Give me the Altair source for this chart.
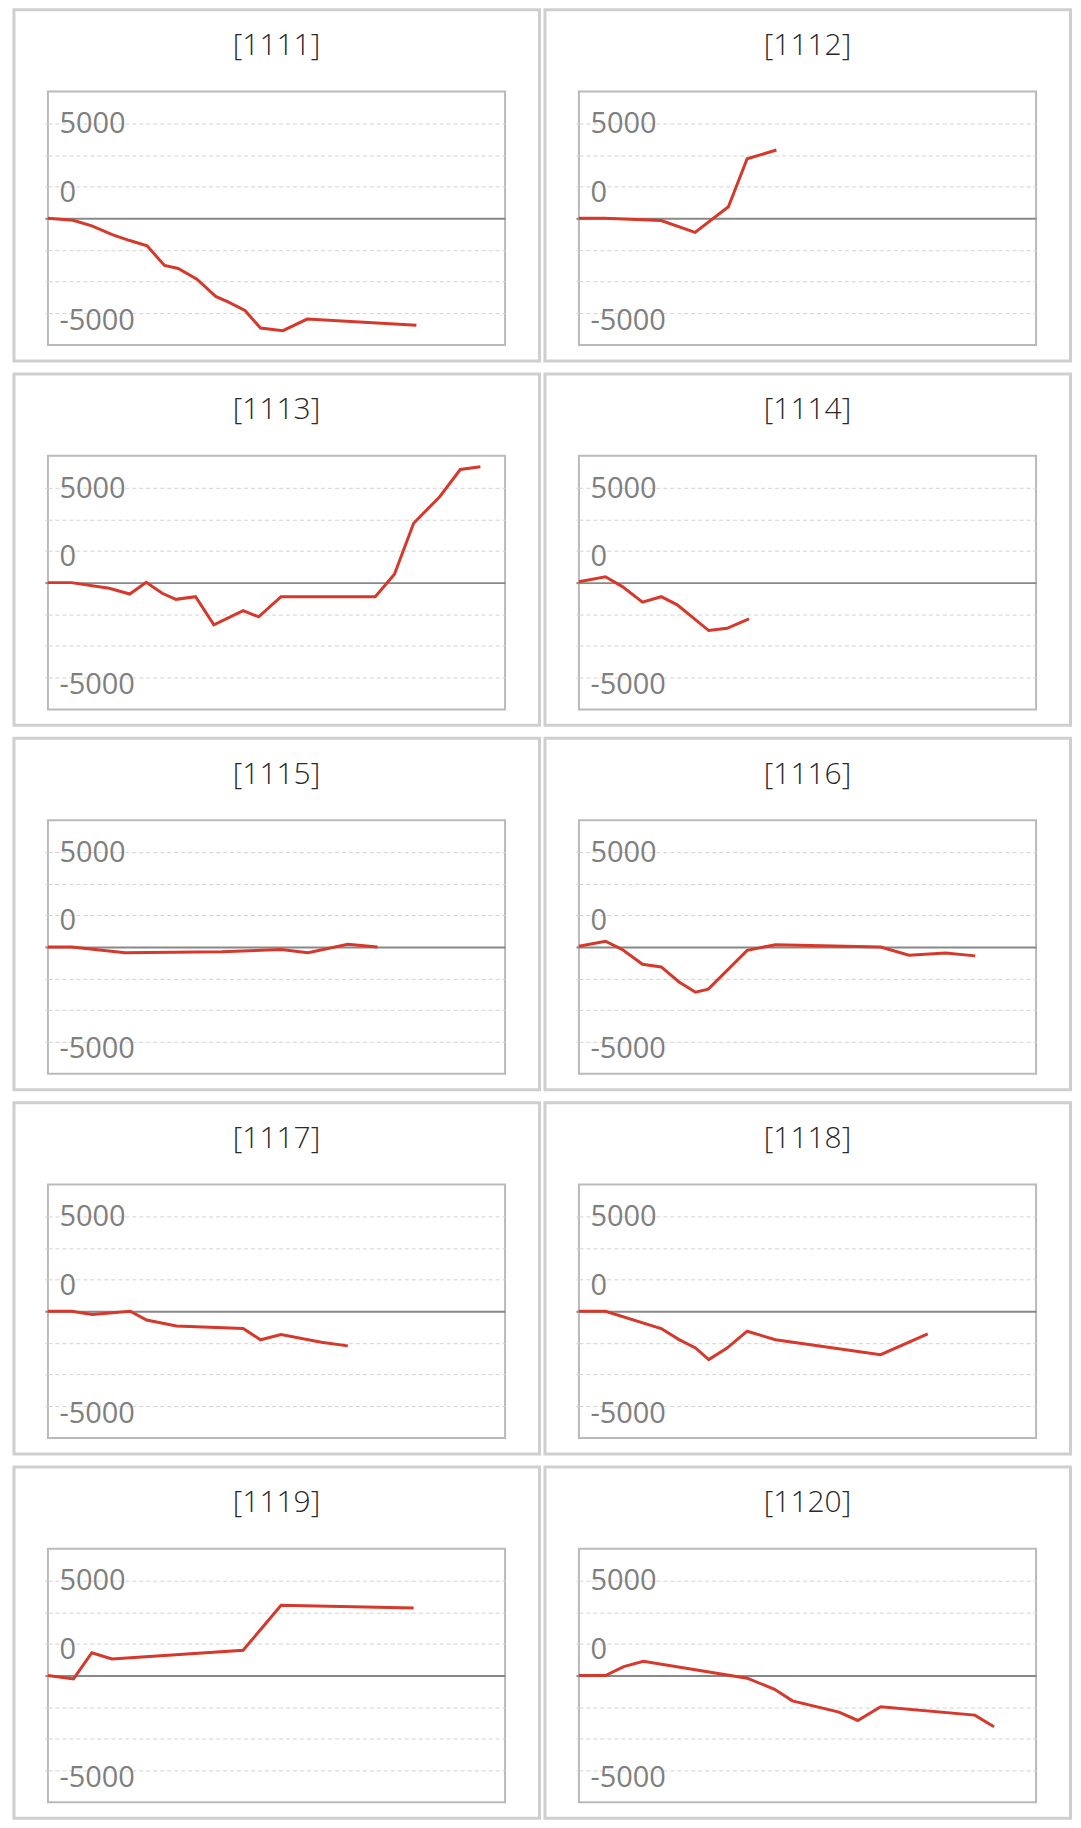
import altair as alt
import pandas as pd

# ---------------- data (x = position along the period, 0-100; y = cumulative value) ----------------
PANELS = ["1111", "1112", "1113", "1114", "1115", "1116", "1117", "1118", "1119", "1120"]

X_1111 = [0, 5.5, 9.6, 14.2, 17.9, 21.7, 25.5, 28.5, 32.6, 36.7, 39.4, 43.1, 46.5, 51.4, 56.7, 80.6]
Y_1111 = [0, -100, -400, -870, -1170, -1450, -2480, -2640, -3200, -4110, -4400, -4850, -5770, -5910, -5300, -5630]

X_1112 = [0, 5.6, 18.0, 25.4, 32.7, 36.8, 43.2]
Y_1112 = [0, 0, -120, -740, 610, 3130, 3590]

X_1113 = [0, 5.1, 13.4, 17.9, 21.5, 25.0, 28.0, 32.3, 36.3, 42.7, 46.1, 51.0, 71.6, 75.8, 80.0, 85.7, 90.2, 94.6]
Y_1113 = [0, 0, -300, -600, 20, -560, -880, -740, -2220, -1470, -1800, -740, -740, 440, 3120, 4520, 5950, 6090]

X_1114 = [0, 5.8, 9.5, 13.9, 18.0, 21.5, 28.4, 32.4, 37.2]
Y_1114 = [50, 310, -210, -1030, -740, -1170, -2520, -2400, -1910]

X_1115 = [0, 5.2, 16.9, 38.0, 51.0, 56.9, 65.6, 72.1]
Y_1115 = [0, 0, -300, -250, -140, -300, 140, 0]

X_1116 = [0, 5.8, 9.5, 13.9, 18.0, 21.9, 25.5, 28.3, 36.8, 43.0, 66.0, 72.2, 80.2, 86.7]
Y_1116 = [40, 300, -140, -910, -1050, -1840, -2380, -2220, -180, 120, 0, -440, -320, -470]

X_1117 = [0, 5.2, 9.7, 18.0, 21.6, 28.1, 42.7, 46.5, 51.0, 59.8, 65.6]
Y_1117 = [0, 0, -175, 0, -460, -770, -910, -1500, -1230, -1630, -1820]

X_1118 = [0, 5.8, 18.0, 21.9, 25.5, 28.4, 32.4, 36.8, 43.0, 66.0, 76.3]
Y_1118 = [0, 0, -910, -1490, -1930, -2540, -1940, -1050, -1500, -2280, -1190]

X_1119 = [0, 5.6, 9.6, 14.0, 42.7, 51.0, 80.0]
Y_1119 = [0, -175, 1200, 870, 1330, 3700, 3560]

X_1120 = [0, 5.8, 9.8, 14.1, 36.8, 42.8, 46.7, 56.9, 61.0, 66.0, 86.6, 90.8]
Y_1120 = [0, 0, 470, 750, -140, -720, -1330, -1920, -2360, -1640, -2080, -2690]

SERIES = {
    "1111": (X_1111, Y_1111), "1112": (X_1112, Y_1112), "1113": (X_1113, Y_1113),
    "1114": (X_1114, Y_1114), "1115": (X_1115, Y_1115), "1116": (X_1116, Y_1116),
    "1117": (X_1117, Y_1117), "1118": (X_1118, Y_1118), "1119": (X_1119, Y_1119),
    "1120": (X_1120, Y_1120),
}

# ---------------- styling ----------------
W, H = 458, 254
LINE_COLOR = "#d6392b"
BOX_COLOR = "#cfcfcf"
PLOT_BORDER = "#bababa"
GRID_COLOR = "#d3d3d3"
ZERO_COLOR = "#888888"
LABEL_COLOR = "#7f7f7f"
TITLE_COLOR = "#2a2a2a"
FONT = "Open Sans"

Y_DOMAIN = [-6666.667, 6666.667]
GRID_VALUES = [-5000, -3333.333, -1666.667, 0, 1666.667, 3333.333, 5000]

y_axis = alt.Axis(
    values=GRID_VALUES,
    title=None,
    domain=False,
    grid=True,
    gridColor={"condition": {"test": "datum.value === 0", "value": ZERO_COLOR}, "value": GRID_COLOR},
    gridDash={"condition": {"test": "datum.value === 0", "value": []}, "value": [4, 3]},
    gridWidth={"condition": {"test": "datum.value === 0", "value": 2}, "value": 1},
    ticks=True,
    tickSize=3,
    tickColor={"condition": {"test": "datum.value === 0", "value": ZERO_COLOR}, "value": GRID_COLOR},
    tickWidth={"condition": {"test": "datum.value === 0", "value": 2}, "value": 1},
    labelExpr="datum.value === 5000 ? '5000' : datum.value === 0 ? '0' : datum.value === -5000 ? '-5000' : ''",
    labelAlign="left",
    labelBaseline="middle",
    labelPadding=-14,
    labelOffset={"condition": [{"test": "datum.value === 0", "value": -26},
                               {"test": "datum.value === -5000", "value": 7}],
                 "value": 0.5},
    labelFont=FONT,
    labelFontSize=29,
    labelColor=LABEL_COLOR,
    labelOverlap=False,
    labelFlush=False,
)


def panel(pid):
    xs, ys = SERIES[pid]
    df = pd.DataFrame({"x": xs, "y": ys})

    frame = alt.Chart(pd.DataFrame({"k": [0]})).mark_rect(
        fill="white", fillOpacity=0, stroke=BOX_COLOR, strokeWidth=3
    ).encode(
        x=alt.value(-34), x2=alt.value(492.5), y=alt.value(-82), y2=alt.value(270)
    )

    title = alt.Chart(pd.DataFrame({"name": [f"[{pid}]"]})).mark_text(
        font=FONT, fontSize=30, fontWeight=300, color=TITLE_COLOR,
        align="center", baseline="middle"
    ).encode(
        text="name:N", x=alt.value(W / 2), y=alt.value(-45.5)
    )

    line = alt.Chart(df).mark_line(
        color=LINE_COLOR, strokeWidth=3, strokeJoin="miter"
    ).encode(
        x=alt.X("x:Q", scale=alt.Scale(domain=[0, 100], nice=False, zero=False), axis=None),
        y=alt.Y("y:Q", scale=alt.Scale(domain=Y_DOMAIN, nice=False, zero=False), axis=y_axis),
    )

    return alt.layer(frame, title, line).properties(
        width=W, height=H,
        view=alt.ViewBackground(stroke=PLOT_BORDER, strokeWidth=2),
    )


rows = []
for i in range(0, len(PANELS), 2):
    rows.append(alt.hconcat(panel(PANELS[i]), panel(PANELS[i + 1]), spacing=0))

chart = alt.vconcat(*rows, spacing=7).properties(
    padding={"left": 3, "top": -3, "right": 0, "bottom": 0}
).configure(
    background="white"
).configure_view(
    stroke=PLOT_BORDER, strokeWidth=2
)

chart.save("out.html", embed_options={"renderer": "svg", "actions": False})
